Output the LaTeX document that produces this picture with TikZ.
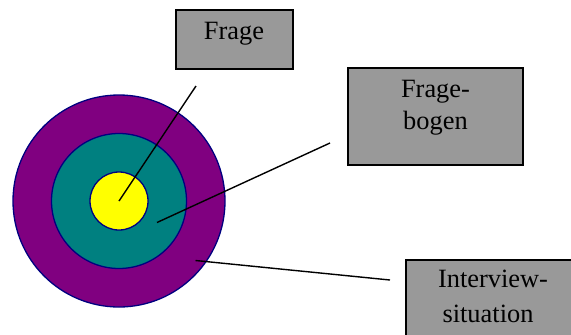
\documentclass[tikz,border=0pt]{standalone}
\usepackage{fontspec}
\setmainfont{Liberation Serif}
\begin{document}
\begin{tikzpicture}[x=1bp,y=-1bp,
  ring/.style={circle, draw=ringedge, line width=1.3bp, inner sep=0pt},
  box/.style={draw=black, fill=boxgray, line width=1.5bp, inner sep=0pt},
  lbl/.style={font=\fontsize{26.5}{33}\selectfont, align=center, inner sep=0pt},
  leader/.style={draw=black, line width=1.4bp}]
\definecolor{ringedge}{HTML}{000080}
\definecolor{outerring}{HTML}{800080}
\definecolor{midring}{HTML}{008080}
\definecolor{corering}{HTML}{FFFF00}
\definecolor{boxgray}{HTML}{999999}
\useasboundingbox (0,0) rectangle (571,334);
\begin{scope}
\clip (0,0) rectangle (571,334);
% target rings
\node[ring, fill=outerring, minimum size=212bp] (outer) at (119,201) {};
\node[ring, fill=midring, minimum size=135bp] (middle) at (119,201) {};
\node[ring, fill=corering, minimum size=58bp] (core) at (119,201) {};
% label boxes
\node[box, minimum width=117bp, minimum height=59bp] (bfrage) at (234.5,39.5) {};
\node[box, minimum width=175bp, minimum height=97bp] (bbogen) at (435.5,116.5) {};
\node[box, minimum width=168bp, minimum height=90bp] (bsit) at (490,305) {};
% texts
\node[lbl, anchor=base] (tfrage) at (234,39) {Frage};
\node[lbl, anchor=base] (tbogen) at (435.5,97.5) {Frage-};
\node[lbl, anchor=base] (tbogen2) at (435.5,129.5) {bogen};
\node[lbl, anchor=base] (tsit) at (493,287) {Interview-};
\node[lbl, anchor=base] (tsit2) at (488,322.5) {situation};
% leader lines
\coordinate (pmid) at (157,222.5);
\coordinate (pout) at (195.5,260.5);
\coordinate (efrage) at (196,86);
\coordinate (ebogen) at (330,143);
\coordinate (esit) at (390,280);
\draw[leader] (core.center) -- (efrage);
\draw[leader] (pmid) -- (ebogen);
\draw[leader] (pout) -- (esit);
\end{scope}
\end{tikzpicture}
\end{document}
